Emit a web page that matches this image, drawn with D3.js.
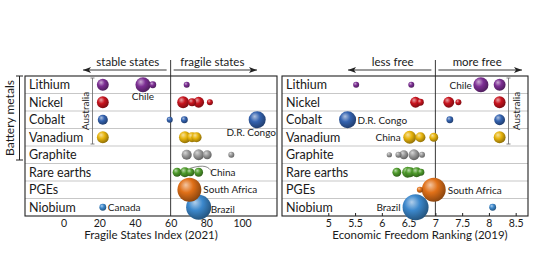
<!DOCTYPE html>
<html>
<head>
<meta charset="utf-8">
<script src="https://cdn.jsdelivr.net/npm/d3@7"></script>
<style>
  body { margin: 0; background: #fff; }
  text { font-family: Lato, "Open Sans", sans-serif; fill: #1a1a1a; }
</style>
</head>
<body>
<div id="chart"></div>
<script>
const minerals = ["Lithium", "Nickel", "Cobalt", "Vanadium", "Graphite", "Rare earths", "PGEs", "Niobium"];
const mineralColors = ["#7d2f94", "#c8141e", "#3463b0", "#e7b40c", "#9c9c9c", "#4f9c2c", "#e07018", "#3c88cc"];

// [mineral, index value, production share %]
const fsiBubbles = [
  ["Lithium", 22, 18], ["Lithium", 44.5, 29], ["Lithium", 50, 6], ["Lithium", 69, 4.6],
  ["Nickel", 22, 18], ["Nickel", 67, 18], ["Nickel", 72, 8], ["Nickel", 75.7, 15], ["Nickel", 82, 4.6],
  ["Cobalt", 22, 13], ["Cobalt", 59.5, 4.6], ["Cobalt", 67.7, 6], ["Cobalt", 108.5, 37],
  ["Vanadium", 22, 18], ["Vanadium", 68, 18], ["Vanadium", 72, 13], ["Vanadium", 74.5, 13],
  ["Graphite", 69, 13], ["Graphite", 75.7, 15], ["Graphite", 80.5, 10], ["Graphite", 94, 4.6],
  ["Rare earths", 63.6, 10], ["Rare earths", 68, 13], ["Rare earths", 71, 8], ["Rare earths", 75.7, 10],
  ["PGEs", 70.5, 73],
  ["Niobium", 22, 6], ["Niobium", 75.7, 80]
];

const efrBubbles = [
  ["Lithium", 5.52, 4.6], ["Lithium", 6.55, 4.6], ["Lithium", 7.85, 29], ["Lithium", 8.2, 18],
  ["Nickel", 6.63, 15], ["Nickel", 6.72, 6], ["Nickel", 7.25, 15], ["Nickel", 7.43, 4.6], ["Nickel", 8.2, 18],
  ["Cobalt", 5.36, 37], ["Cobalt", 7.27, 6], ["Cobalt", 8.2, 15],
  ["Vanadium", 6.52, 21], ["Vanadium", 6.72, 13], ["Vanadium", 6.97, 10], ["Vanadium", 8.2, 18],
  ["Graphite", 6.14, 3.5], ["Graphite", 6.31, 4.6], ["Graphite", 6.75, 4.6], ["Graphite", 6.41, 10], ["Graphite", 6.6, 15],
  ["Rare earths", 6.28, 10], ["Rare earths", 6.48, 15], ["Rare earths", 6.53, 13], ["Rare earths", 6.65, 13], ["Rare earths", 6.73, 6],
  ["PGEs", 6.71, 4.6], ["PGEs", 6.97, 73],
  ["Niobium", 8.07, 6], ["Niobium", 6.63, 86]
];

// [mineral, index value, text]
const fsiLabels = [["Lithium", 44.5, "Chile"], ["Cobalt", 108.5, "D.R. Congo"], ["Rare earths", 71, "China"],
  ["PGEs", 70.5, "South Africa"], ["Niobium", 22, "Canada"], ["Niobium", 75.7, "Brazil"]];
const efrLabels = [["Lithium", 7.85, "Chile"], ["Cobalt", 5.36, "D.R. Congo"], ["Vanadium", 6.52, "China"],
  ["PGEs", 6.97, "South Africa"], ["Niobium", 6.63, "Brazil"]];

const fsiTicks = [0, 20, 40, 60, 80, 100];
const efrTicks = [5, 5.5, 6, 6.5, 7, 7.5, 8, 8.5];

const width = 533, height = 261;
const svg = d3.select("#chart").append("svg")
  .attr("width", width).attr("height", height);

const color = d3.scaleOrdinal().domain(minerals).range(mineralColors);
const radius = d3.scaleSqrt().domain([0, 100]).range([0, 14]);
const y = d3.scaleBand().domain(minerals).range([76, 216]);

// sphere shading
const defs = svg.append("defs");
minerals.forEach((m, i) => {
  const c = d3.color(color(m));
  const g = defs.append("radialGradient")
    .attr("id", "sph" + i)
    .attr("cx", "40%").attr("cy", "38%").attr("r", "65%")
    .attr("fx", "35%").attr("fy", "30%");
  g.append("stop").attr("offset", "0%").attr("stop-color", d3.interpolateRgb(c, "#fff")(0.6));
  g.append("stop").attr("offset", "45%").attr("stop-color", c.formatHex());
  g.append("stop").attr("offset", "100%").attr("stop-color", c.darker(1.4).formatHex());
});

function panel(opts) {
  const { x0, x1, domain, bubbles, labels, ticks, title, divider, leftText, rightText, tickMarks, labelPos } = opts;
  const x = d3.scaleLinear().domain(domain).range([x0, x1]);
  const g = svg.append("g");

  // row separators
  g.selectAll(".sep")
    .data(minerals.slice(1))
    .join("line")
    .attr("x1", x0).attr("x2", x1)
    .attr("y1", d => y(d)).attr("y2", d => y(d))
    .attr("stroke", "#b9b9b9").attr("stroke-width", 0.8);

  // row names
  g.selectAll(".rowname")
    .data(minerals)
    .join("text")
    .attr("x", x0 + 4)
    .attr("y", d => y(d) + y.bandwidth() / 2 + 4.5)
    .attr("font-size", 12.5)
    .text(d => d);

  // divider line (extends above frame)
  g.append("line")
    .attr("x1", x(divider)).attr("x2", x(divider))
    .attr("y1", 60).attr("y2", 216)
    .attr("stroke", "#222").attr("stroke-width", 0.9);

  // frame
  g.append("rect")
    .attr("x", x0).attr("y", 76)
    .attr("width", x1 - x0).attr("height", 140)
    .attr("fill", "none").attr("stroke", "#222").attr("stroke-width", 1.1);

  // bottom axis
  const axis = g.append("g")
    .attr("transform", "translate(0,216)")
    .call(d3.axisBottom(x).tickValues(ticks).tickSize(tickMarks ? -3 : 0).tickPadding(4).tickFormat(d3.format("")));
  axis.select(".domain").remove();
  axis.selectAll("line").attr("stroke", "#222");
  axis.selectAll("text").attr("font-size", 10.5).attr("dy", "0.72em").attr("y", 3);

  g.append("text")
    .attr("x", opts.titleX).attr("y", 239)
    .attr("text-anchor", "middle").attr("font-size", 11.5)
    .text(title);

  // top arrows
  const ay = 70, xd = x(divider);
  const arrow = (xa, xb) => {
    g.append("line").attr("x1", xa).attr("x2", xb).attr("y1", ay).attr("y2", ay)
      .attr("stroke", "#222").attr("stroke-width", 0.9);
    const dir = xb > xa ? 1 : -1;
    g.append("path")
      .attr("d", `M${xb},${ay} L${xb - dir * 8},${ay - 3} L${xb - dir * 6},${ay} L${xb - dir * 8},${ay + 3} Z`)
      .attr("fill", "#222");
  };
  arrow(xd - 4, opts.arrowL);
  arrow(xd + 3, opts.arrowR);
  g.append("text").attr("x", (xd - 4 + opts.arrowL) / 2 + 3).attr("y", 66)
    .attr("text-anchor", "middle").attr("font-size", 11.5).text(leftText);
  g.append("text").attr("x", (xd + 3 + opts.arrowR) / 2 - 3).attr("y", 66)
    .attr("text-anchor", "middle").attr("font-size", 11.5).text(rightText);

  // Australia bracket
  const bx = opts.ausX;
  const by0 = y("Lithium") + 2, by1 = y("Vanadium") + y.bandwidth() - 2;
  g.append("path")
    .attr("d", `M${bx - 2},${by0} H${bx + 2} M${bx},${by0} V${by1} M${bx - 2},${by1} H${bx + 2}`)
    .attr("stroke", "#666").attr("stroke-width", 0.8).attr("fill", "none");
  g.append("text")
    .attr("transform", `translate(${bx + opts.ausDx},${(by0 + by1) / 2}) rotate(-90)`)
    .attr("text-anchor", "middle").attr("font-size", 10)
    .text("Australia");

  // China leader line
  if (opts.leader) {
    const [m, v] = opts.leader;
    const cx = x(v), cy = y(m) + y.bandwidth() / 2;
    g.append("path")
      .attr("d", `M${cx},${cy - 4} C${cx + 14},${cy - 8} ${cx + 18},${cy - 6} ${cx + 22},${cy}`)
      .attr("stroke", "#555").attr("stroke-width", 0.7).attr("fill", "none");
  }

  // bubbles (big first so small ones sit on top)
  const data = bubbles.map(d => ({ m: d[0], v: d[1], s: d[2] }))
    .sort((a, b) => b.s - a.s);
  g.selectAll(".bubble")
    .data(data)
    .join("circle")
    .attr("cx", d => x(d.v))
    .attr("cy", d => y(d.m) + y.bandwidth() / 2)
    .attr("r", d => radius(d.s))
    .attr("fill", d => `url(#sph${minerals.indexOf(d.m)})`);

  // country labels
  g.selectAll(".country")
    .data(labels)
    .join("text")
    .attr("x", (d, i) => x(d[1]) + labelPos[i][0])
    .attr("y", (d, i) => y(d[0]) + y.bandwidth() / 2 + labelPos[i][1])
    .attr("text-anchor", (d, i) => labelPos[i][2])
    .attr("font-size", 10)
    .text(d => d[2]);
}

panel({
  x0: 25, x1: 277, domain: [-21.6, 119.6],
  bubbles: fsiBubbles, labels: fsiLabels, ticks: fsiTicks,
  title: "Fragile States Index (2021)", titleX: 151,
  divider: 60, leftText: "stable states", rightText: "fragile states",
  arrowL: 83, arrowR: 257, tickMarks: false,
  ausX: 92.5, ausDx: -4, leader: ["Rare earths", 71],
  labelPos: [[0, 15, "middle"], [-6, 16, "middle"], [20, 4, "start"], [14, 3.5, "start"], [5, 4, "start"], [12, 6, "start"]]
});

panel({
  x0: 282, x1: 528, domain: [4.135, 8.73],
  bubbles: efrBubbles, labels: efrLabels, ticks: efrTicks,
  title: "Economic Freedom Ranking (2019)", titleX: 420,
  divider: 7, leftText: "less free", rightText: "more free",
  arrowL: 348, arrowR: 522, tickMarks: true,
  ausX: 508.5, ausDx: 11, leader: null,
  labelPos: [[-9, 4, "end"], [10, 4, "start"], [-9, 4, "end"], [14, 4, "start"], [-15, 4, "end"]]
});

// Battery metals bracket
svg.append("path")
  .attr("d", "M16,76 H23 M19.5,76 V160 M16,160 H23")
  .attr("stroke", "#222").attr("stroke-width", 1).attr("fill", "none");
svg.append("text")
  .attr("transform", "translate(14,118) rotate(-90)")
  .attr("text-anchor", "middle").attr("font-size", 12)
  .text("Battery metals");
</script>
</body>
</html>
